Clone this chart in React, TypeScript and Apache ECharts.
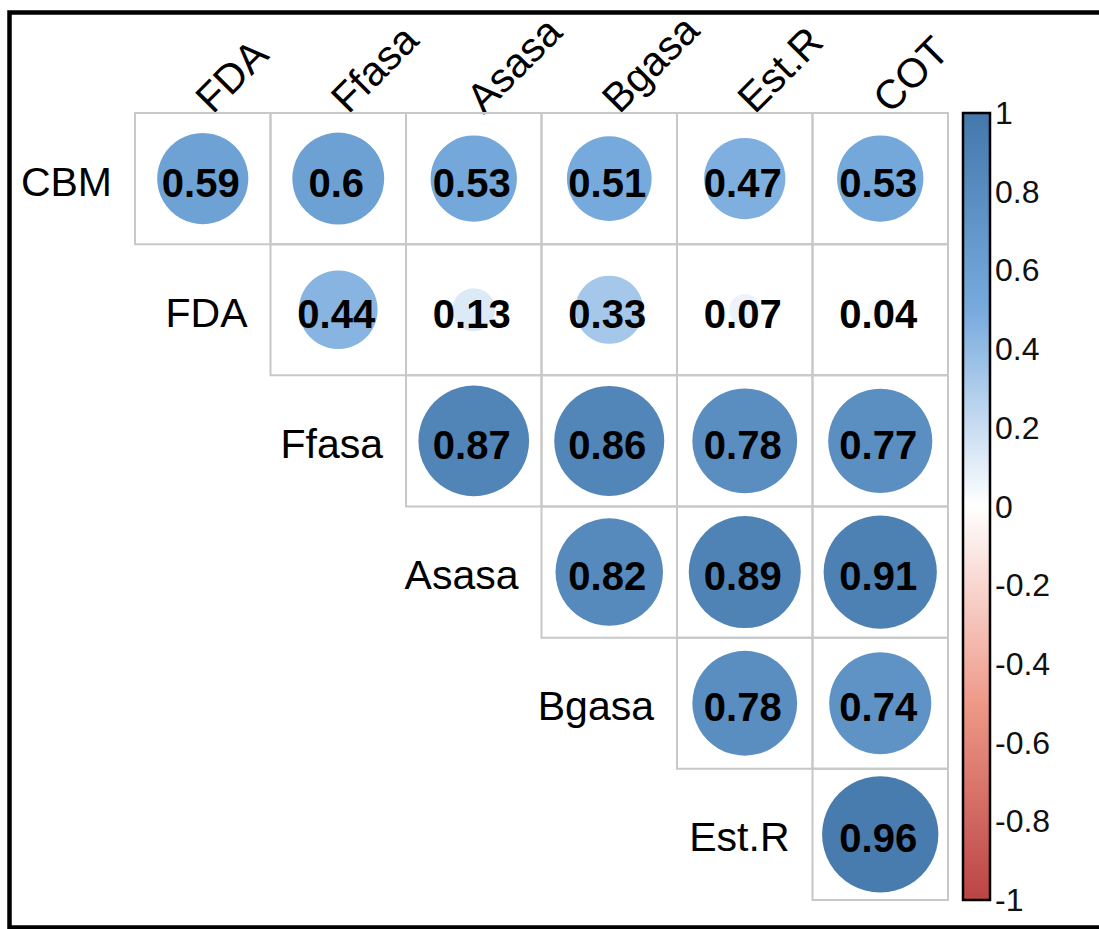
import React, { useEffect, useRef } from "react";
import * as echarts from "echarts";

const rowNames = ["CBM", "FDA", "Ffasa", "Asasa", "Bgasa", "Est.R"];
const colNames = ["FDA", "Ffasa", "Asasa", "Bgasa", "Est.R", "COT"];

// upper-triangle correlation values, one array per row (starting at the diagonal column)
const rowCBM = [0.59, 0.6, 0.53, 0.51, 0.47, 0.53];
const rowFDA = [0.44, 0.13, 0.33, 0.07, 0.04];
const rowFfasa = [0.87, 0.86, 0.78, 0.77];
const rowAsasa = [0.82, 0.89, 0.91];
const rowBgasa = [0.78, 0.74];
const rowEstR = [0.96];
const rowValues = [rowCBM, rowFDA, rowFfasa, rowAsasa, rowBgasa, rowEstR];

const paletteColors = ["#BB4444", "#EE9988", "#FFFFFF", "#77AADD", "#4477AA"];
const barTicksMin = -1;
const barTicksMax = 1;
const barTicksStep = 0.2;

const FONT = "'Liberation Sans', Arial, sans-serif";

export default function App() {
  const ref = useRef<HTMLDivElement>(null);
  useEffect(() => {
    if (!ref.current) return;
    const chart = echarts.init(ref.current, undefined, { renderer: "svg" });

    const cellData: number[][] = [];
    rowValues.forEach((vals, r) => {
      vals.forEach((v, k) => {
        cellData.push([r + k, r, v]);
      });
    });
    const diagData = rowNames.map((_, i) => [i, i]);

    const option: any = {
      animation: false,
      backgroundColor: "#ffffff",
      grid: [
        { left: 135, top: 113, width: 813, height: 787 },
        { left: 963, top: 113, width: 27, height: 787 },
      ],
      xAxis: [
        {
          type: "category",
          gridIndex: 0,
          data: colNames,
          position: "top",
          axisLine: { show: false },
          axisTick: { show: false },
          splitLine: { show: false },
          axisLabel: {
            rotate: -45,
            fontSize: 41,
            fontFamily: FONT,
            color: "#000",
            margin: 8,
            interval: 0,
          },
        },
        { type: "value", gridIndex: 1, show: false, min: 0, max: 1 },
      ],
      yAxis: [
        {
          type: "category",
          gridIndex: 0,
          data: rowNames,
          inverse: true,
          show: false,
        },
        {
          type: "value",
          gridIndex: 1,
          min: barTicksMin,
          max: barTicksMax,
          interval: barTicksStep,
          position: "right",
          axisLine: { show: true, lineStyle: { color: "#000", width: 2 } },
          axisTick: { show: true, length: 7, inside: false, lineStyle: { color: "#000", width: 2 } },
          splitLine: { show: false },
          axisLabel: {
            margin: 5,
            fontSize: 32,
            fontFamily: FONT,
            color: "#111",
            formatter: (v: number) => String(Math.round(v * 10) / 10),
          },
        },
      ],
      visualMap: {
        show: false,
        type: "continuous",
        min: -1,
        max: 1,
        dimension: 2,
        seriesIndex: 0,
        inRange: { color: paletteColors },
      },
      graphic: [
        {
          type: "rect",
          shape: { x: 963, y: 113, width: 27, height: 787 },
          style: {
            fill: new echarts.graphic.LinearGradient(0, 0, 0, 1, [
              { offset: 0, color: paletteColors[4] },
              { offset: 0.25, color: paletteColors[3] },
              { offset: 0.5, color: paletteColors[2] },
              { offset: 0.75, color: paletteColors[1] },
              { offset: 1, color: paletteColors[0] },
            ]),
            stroke: "#000",
            lineWidth: 2.5,
          },
          z: 1,
        },
        {
          type: "rect",
          shape: { x: 9.5, y: 12.5, width: 1110, height: 915 },
          style: { fill: "none", stroke: "#000", lineWidth: 4.5 },
          z: 10,
        },
      ],
      series: [
        {
          type: "custom",
          xAxisIndex: 0,
          yAxisIndex: 0,
          data: cellData,
          renderItem: (params: any, api: any) => {
            const c = api.coord([api.value(0), api.value(1)]);
            const s = api.size([1, 1]);
            const w = s[0];
            const h = s[1];
            const v = api.value(2);
            const rad = Math.sqrt(Math.abs(v)) * ((w + h) / 2) * 0.445;
            return {
              type: "group",
              children: [
                {
                  type: "rect",
                  shape: { x: c[0] - w / 2, y: c[1] - h / 2, width: w, height: h },
                  style: { fill: "none", stroke: "#c8c8c8", lineWidth: 2 },
                },
                {
                  type: "circle",
                  shape: { cx: c[0], cy: c[1], r: rad },
                  style: { fill: api.visual("color") },
                },
                {
                  type: "text",
                  style: {
                    text: String(v),
                    x: c[0] - 2,
                    y: c[1] + 4,
                    textAlign: "center",
                    textVerticalAlign: "middle",
                    fontSize: 40,
                    fontWeight: "bold",
                    fontFamily: FONT,
                    fill: "#000",
                  },
                },
              ],
            };
          },
        },
        {
          type: "custom",
          xAxisIndex: 0,
          yAxisIndex: 0,
          data: diagData,
          renderItem: (params: any, api: any) => {
            const c = api.coord([api.value(0), api.value(1)]);
            const s = api.size([1, 1]);
            return {
              type: "text",
              style: {
                text: rowNames[params.dataIndex],
                x: c[0] - s[0] / 2 - 23,
                y: c[1] + 3,
                textAlign: "right",
                textVerticalAlign: "middle",
                fontSize: 41,
                fontFamily: FONT,
                fill: "#000",
              },
            };
          },
        },
      ],
    };
    chart.setOption(option);
    return () => chart.dispose();
  }, []);
  return (
    <div
      ref={ref}
      style={{ position: "fixed", left: 0, top: 0, width: 1099, height: 929, background: "#fff" }}
    />
  );
}
